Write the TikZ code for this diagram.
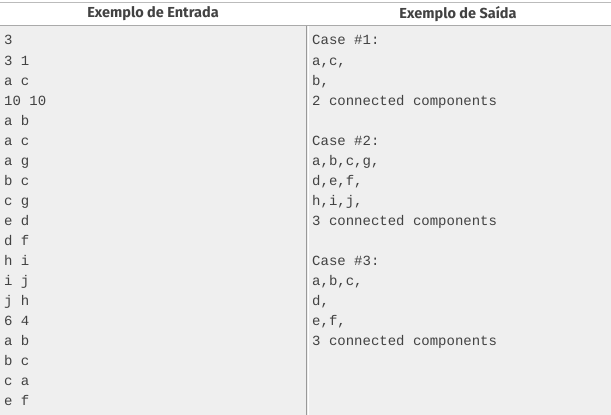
\documentclass[tikz,border=0pt]{standalone}
\usepackage{fontspec}
\setmainfont{Fira Sans}
\setmonofont{Liberation Mono}
\definecolor{bodygray}{RGB}{239,239,239}
\definecolor{rulegray}{RGB}{170,170,170}
\definecolor{textgray}{RGB}{66,66,66}
\tikzset{
  headtext/.style={font=\fontsize{14.5}{16}\selectfont\bfseries, text=textgray, inner sep=0pt},
  codeline/.style={font=\fontsize{14}{20}\selectfont\ttfamily, text=textgray, inner sep=0pt, anchor=base west}
}
\begin{document}
\begin{tikzpicture}[x=1pt,y=1pt]
    \useasboundingbox (0,0) rectangle (611,-415);
    % Kopfzeile
    \fill[white] (0,0) rectangle (611,-26);
    \draw[rulegray!80, line width=1pt] (0,-2.5) -- (611,-2.5);
    \fill[bodygray] (0,-26) rectangle (611,-415);
    \draw[rulegray, line width=1.2pt] (0,-25.6) -- (611,-25.6);
    \draw[rulegray!120, line width=1pt] (306.5,-26) -- (306.5,-415);
    \draw[white, line width=1pt] (308.5,-26) -- (308.5,-415);
    \node[headtext] (headIn) at (153,-14) {Exemplo de Entrada};
    \node[headtext] (headOut) at (458,-14) {Exemplo de Saída};

    % Eingabe
    \foreach \txt [count=\n] in {3,3 1,a c,10 10,a b,a c,a g,b c,c g,e d,d f,h i,i j,j h,6 4,a b,b c,c a,e f}
        \node[codeline] (in\n) at (4,{-45-20*(\n-1)}) {\txt};

    % Ausgabe
    \foreach \txt [count=\n] in {Case \#1:,{a,c,},{b,},2 connected components,{},Case \#2:,{a,b,c,g,},{d,e,f,},{h,i,j,},3 connected components,{},Case \#3:,{a,b,c,},{d,},{e,f,},3 connected components}
        \node[codeline] (out\n) at (312,{-45-20*(\n-1)}) {\txt};
\end{tikzpicture}
\end{document}
